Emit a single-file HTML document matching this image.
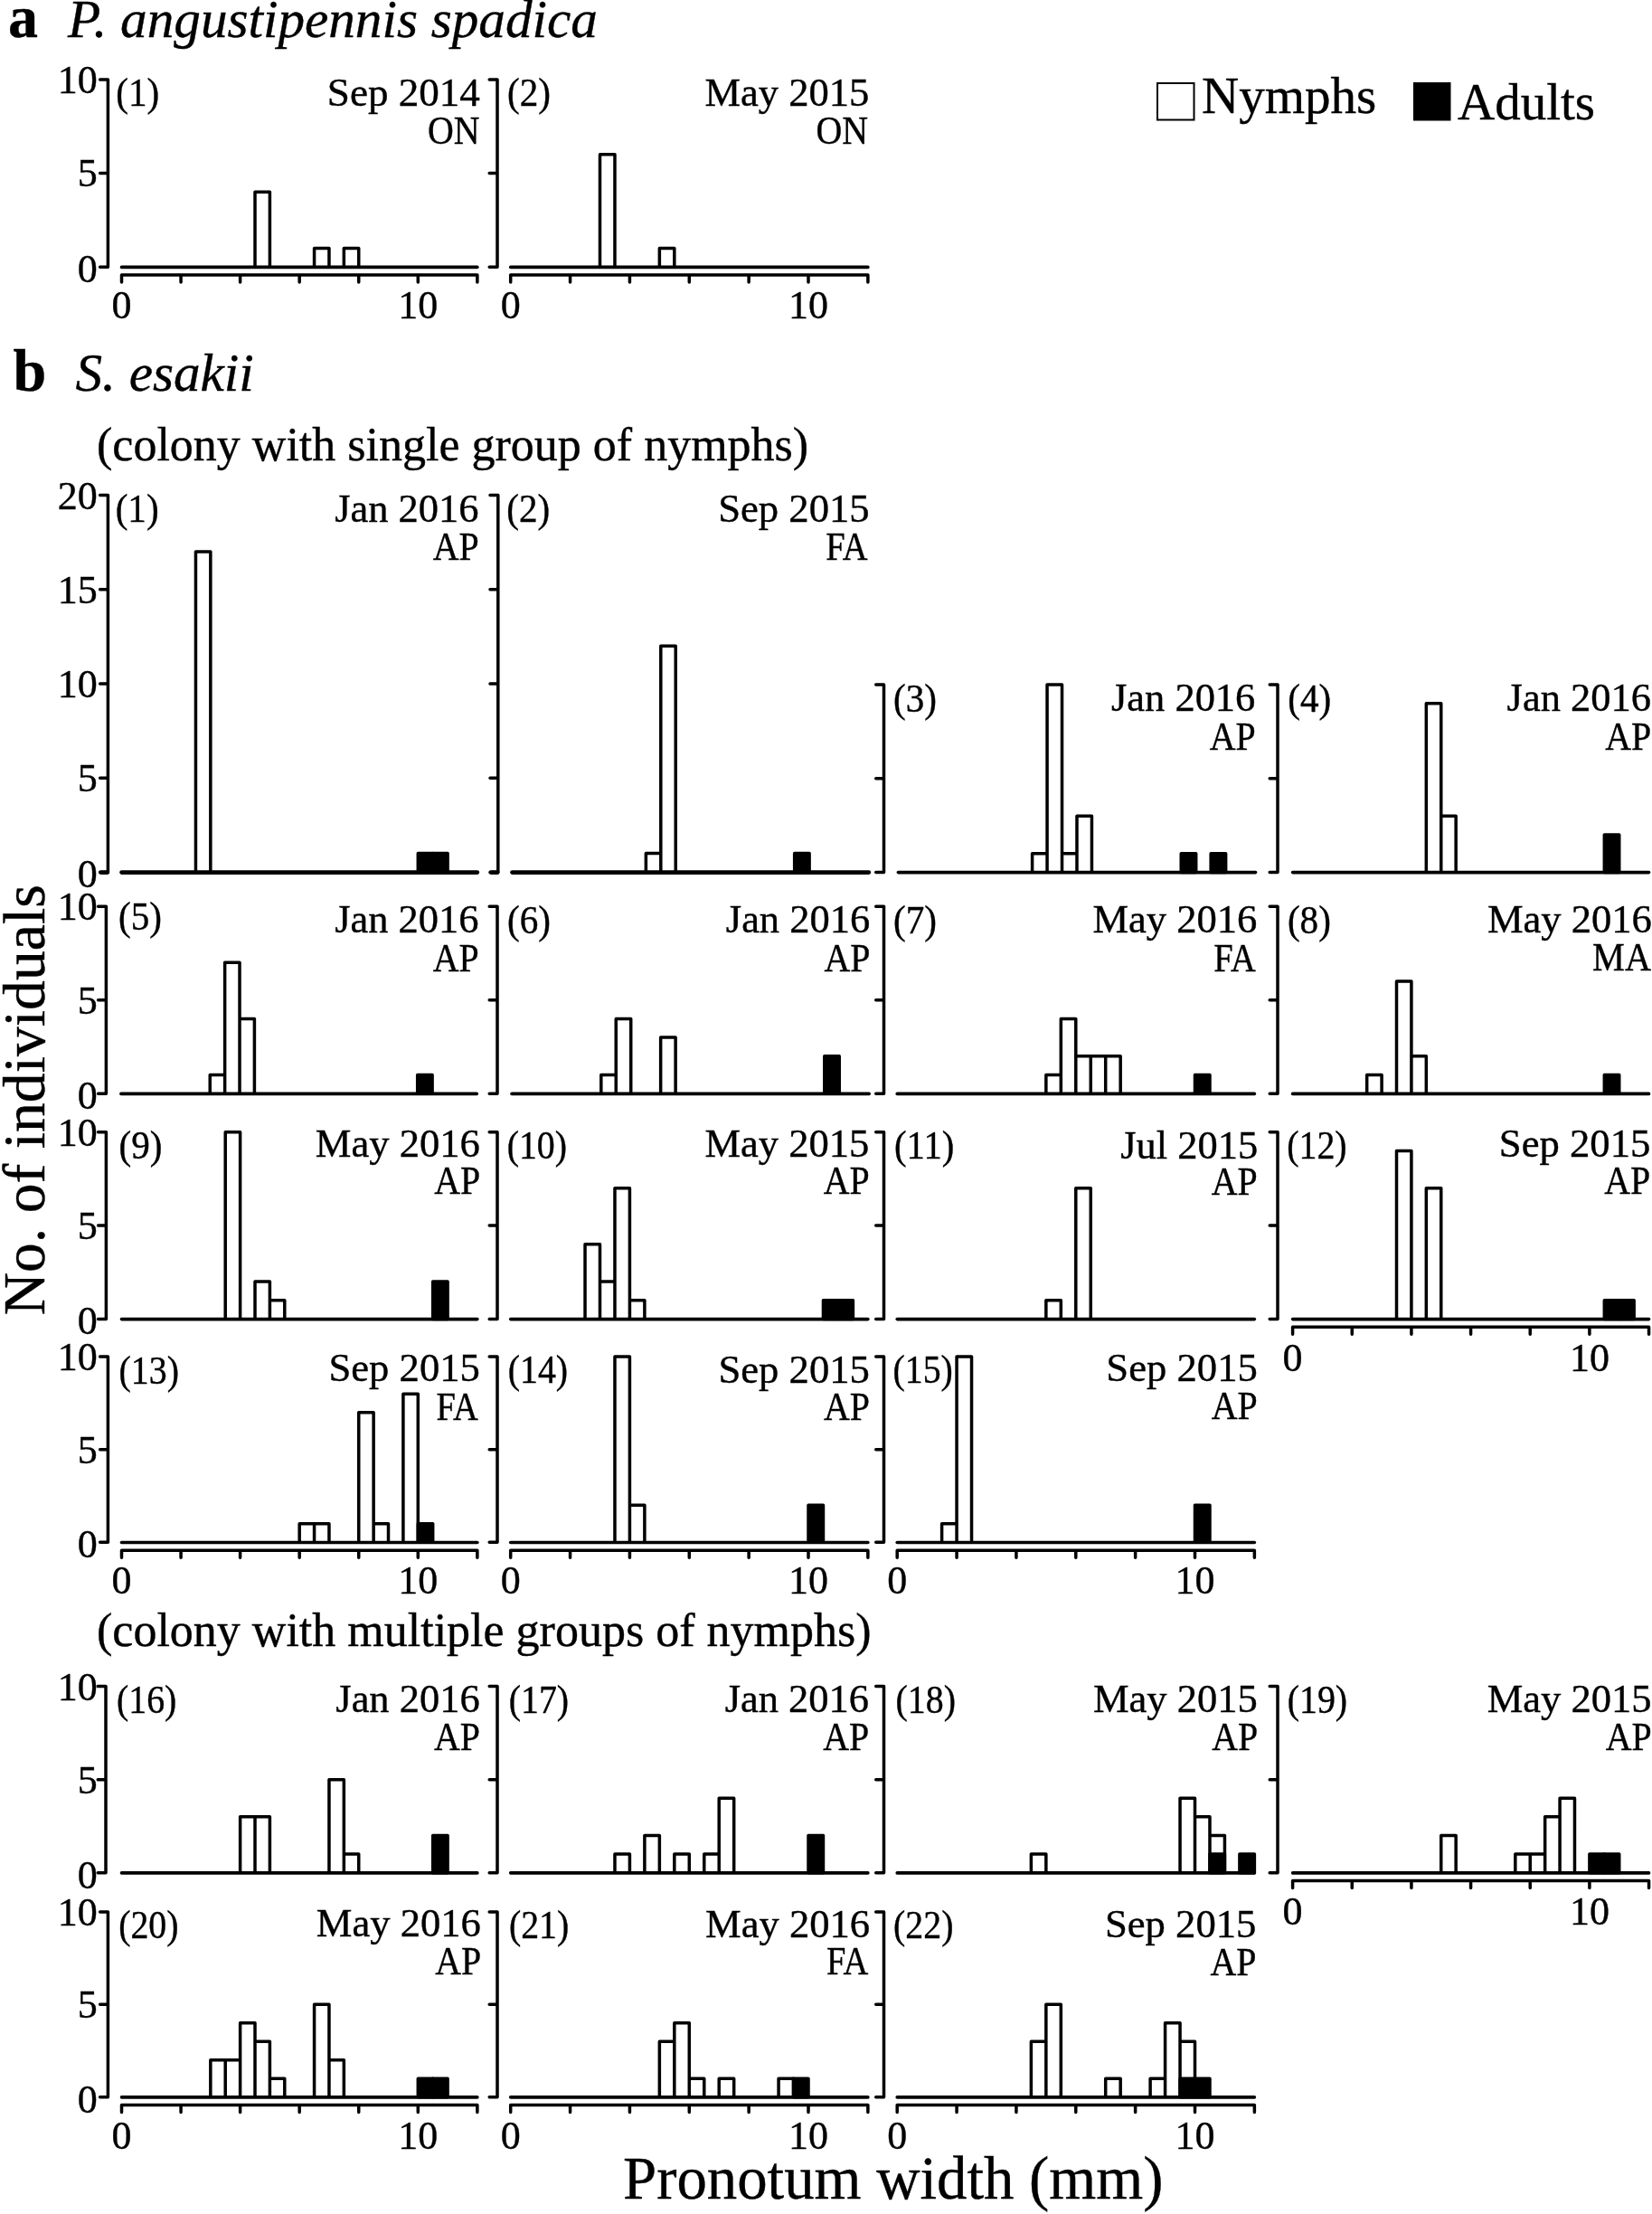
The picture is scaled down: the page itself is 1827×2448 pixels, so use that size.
<!DOCTYPE html>
<html lang="en"><head><meta charset="utf-8"><title>Pronotum width histograms</title>
<style>
html,body{margin:0;padding:0;background:#fff}
svg{display:block;filter:blur(0.45px)}
text{font-family:"Liberation Serif",serif;fill:#000;stroke:#000;stroke-width:0.4px}
.t{font-size:44px}
.ttl{font-size:59.2px;font-style:italic}
.big{font-size:66px;font-weight:bold}
.sub{font-size:52px}
.leg{font-size:57px}
.ax{font-size:66.8px}
path.l{fill:none;stroke:#000;stroke-linecap:round;stroke-linejoin:round}
path.l:not([stroke-width]){stroke-width:3.5}
path.n{fill:#fff;stroke:#000;stroke-width:3.5;stroke-linejoin:round}
.k{stroke:#000;stroke-width:3.5;stroke-linejoin:round}
rect{fill:#000}
</style></head><body>
<svg width="1827" height="2448" viewBox="0 0 1827 2448">
<rect width="1827" height="2448" style="fill:#fff"/>
<g>
<path d="M110.6 87.9H119.4V295.2H110.6M110.6 191.55H119.4" class="l"/>
<text x="107.8" y="312.1" class="t" text-anchor="end">0</text>
<text x="107.8" y="206.45" class="t" text-anchor="end">5</text>
<text x="107.8" y="102.8" class="t" text-anchor="end">10</text>
<path d="M282.01 295.2V212.28H298.4V295.2M347.57 295.2V274.47H363.96V295.2M380.35 295.2V274.47H396.74V295.2" class="n"/>
<path d="M134.5 295.4H527.86" class="l" stroke-width="3.6"/>
<path d="M134.5 312.1V304.1H527.86V312.1M200.06 304.1V312.1M265.62 304.1V312.1M331.18 304.1V312.1M396.74 304.1V312.1M462.3 304.1V312.1" class="l"/>
<text x="134.5" y="352.3" class="t" text-anchor="middle">0</text>
<text x="462.3" y="352.3" class="t" text-anchor="middle">10</text>
<text x="128.33" y="117.4" class="t" textLength="47.97" lengthAdjust="spacingAndGlyphs">(1)</text>
<text x="530.92" y="117" class="t" text-anchor="end" textLength="169.12" lengthAdjust="spacingAndGlyphs">Sep 2014</text>
<text x="530.44" y="158.9" class="t" text-anchor="end" textLength="57.56" lengthAdjust="spacingAndGlyphs">ON</text>
</g>
<g>
<path d="M541.2 87.9H550V295.2H541.2M541.2 191.55H550" class="l"/>
<path d="M663.49 295.2V170.82H679.96V295.2M729.35 295.2V274.47H745.82V295.2" class="n"/>
<path d="M564.7 295.4H959.86" class="l" stroke-width="3.6"/>
<path d="M564.7 312.1V304.1H959.86V312.1M630.56 304.1V312.1M696.42 304.1V312.1M762.28 304.1V312.1M828.14 304.1V312.1M894 304.1V312.1" class="l"/>
<text x="564.7" y="352.3" class="t" text-anchor="middle">0</text>
<text x="894" y="352.3" class="t" text-anchor="middle">10</text>
<text x="561.03" y="117.4" class="t" textLength="47.97" lengthAdjust="spacingAndGlyphs">(2)</text>
<text x="961.32" y="117.4" class="t" text-anchor="end" textLength="181.86" lengthAdjust="spacingAndGlyphs">May 2015</text>
<text x="960.14" y="158.5" class="t" text-anchor="end" textLength="57.56" lengthAdjust="spacingAndGlyphs">ON</text>
</g>
<g>
<path d="M110.6 547.6H119.4V964.4H110.6M110.6 860.2H119.4M110.6 756H119.4M110.6 651.8H119.4" class="l"/>
<path d="M111.6 964.6H118.8" class="l" stroke-width="4.6"/>
<text x="107.8" y="981.3" class="t" text-anchor="end">0</text>
<text x="107.8" y="875.1" class="t" text-anchor="end">5</text>
<text x="107.8" y="770.9" class="t" text-anchor="end">10</text>
<text x="107.8" y="666.7" class="t" text-anchor="end">15</text>
<text x="107.8" y="562.5" class="t" text-anchor="end">20</text>
<path d="M216.45 964.4V610.12H232.84V964.4" class="n"/>
<rect x="462.3" y="943.56" width="16.39" height="20.84" class="k"/>
<rect x="478.69" y="943.56" width="16.39" height="20.84" class="k"/>
<path d="M134.5 964.6H527.86" class="l" stroke-width="4.6"/>
<text x="127.63" y="577.4" class="t" textLength="47.97" lengthAdjust="spacingAndGlyphs">(1)</text>
<text x="529.52" y="577.4" class="t" text-anchor="end" textLength="159.28" lengthAdjust="spacingAndGlyphs">Jan 2016</text>
<text x="529.8" y="618.5" class="t" text-anchor="end" textLength="50.97" lengthAdjust="spacingAndGlyphs">AP</text>
</g>
<g>
<path d="M542 547.6H550.8V964.4H542M542 860.2H550.8M542 756H550.8M542 651.8H550.8" class="l"/>
<path d="M543 964.6H550.2" class="l" stroke-width="4.6"/>
<path d="M714.37 964.4V943.56H730.8V964.4M730.8 964.4V714.32H747.23V964.4" class="n"/>
<rect x="878.67" y="943.56" width="16.43" height="20.84" class="k"/>
<path d="M566.5 964.6H960.82" class="l" stroke-width="4.7"/>
<text x="560.23" y="577.4" class="t" textLength="47.97" lengthAdjust="spacingAndGlyphs">(2)</text>
<text x="961.63" y="577.4" class="t" text-anchor="end" textLength="167.47" lengthAdjust="spacingAndGlyphs">Sep 2015</text>
<text x="959.6" y="618.5" class="t" text-anchor="end" textLength="46.38" lengthAdjust="spacingAndGlyphs">FA</text>
</g>
<g>
<path d="M968.7 757H977.5V964.4H968.7M968.7 860.7H977.5" class="l"/>
<path d="M1141.59 964.4V943.66H1158.05V964.4M1158.05 964.4V757H1174.52V964.4M1174.52 964.4V943.66H1190.98V964.4M1190.98 964.4V902.18H1207.45V964.4" class="n"/>
<rect x="1306.24" y="943.66" width="16.46" height="20.74" class="k"/>
<rect x="1339.16" y="943.66" width="16.47" height="20.74" class="k"/>
<path d="M993.4 964.6H1388.56" class="l" stroke-width="3.6"/>
<text x="988.03" y="787.4" class="t" textLength="47.97" lengthAdjust="spacingAndGlyphs">(3)</text>
<text x="1388.32" y="785.5" class="t" text-anchor="end" textLength="159.28" lengthAdjust="spacingAndGlyphs">Jan 2016</text>
<text x="1388.6" y="828.5" class="t" text-anchor="end" textLength="50.97" lengthAdjust="spacingAndGlyphs">AP</text>
</g>
<g>
<path d="M1404.2 757H1413V964.4H1404.2M1404.2 860.7H1413" class="l"/>
<path d="M1577.33 964.4V777.74H1593.75V964.4M1593.75 964.4V902.18H1610.16V964.4" class="n"/>
<rect x="1774.31" y="922.92" width="16.42" height="41.48" class="k"/>
<path d="M1429.6 964.6H1823.56" class="l" stroke-width="3.6"/>
<text x="1424.33" y="787.4" class="t" textLength="47.97" lengthAdjust="spacingAndGlyphs">(4)</text>
<text x="1825.92" y="785.5" class="t" text-anchor="end" textLength="159.28" lengthAdjust="spacingAndGlyphs">Jan 2016</text>
<text x="1826.2" y="828.5" class="t" text-anchor="end" textLength="50.97" lengthAdjust="spacingAndGlyphs">AP</text>
</g>
<g>
<path d="M108.6 1002.2H117.4V1209.2H108.6M108.6 1105.7H117.4" class="l"/>
<text x="107.8" y="1226.1" class="t" text-anchor="end">0</text>
<text x="107.8" y="1120.6" class="t" text-anchor="end">5</text>
<text x="107.8" y="1017.1" class="t" text-anchor="end">10</text>
<path d="M232.24 1209.2V1188.5H248.63V1209.2M248.63 1209.2V1064.3H265.02V1209.2M265.02 1209.2V1126.4H281.41V1209.2" class="n"/>
<rect x="461.7" y="1188.5" width="16.39" height="20.7" class="k"/>
<path d="M133.9 1209.4H527.26" class="l" stroke-width="3.6"/>
<text x="131.03" y="1027.6" class="t" textLength="47.97" lengthAdjust="spacingAndGlyphs">(5)</text>
<text x="529.52" y="1030.8" class="t" text-anchor="end" textLength="159.28" lengthAdjust="spacingAndGlyphs">Jan 2016</text>
<text x="529.8" y="1073.5" class="t" text-anchor="end" textLength="50.97" lengthAdjust="spacingAndGlyphs">AP</text>
</g>
<g>
<path d="M541.2 1002.2H550V1209.2H541.2M541.2 1105.7H550" class="l"/>
<path d="M664.79 1209.2V1188.5H681.25V1209.2M681.25 1209.2V1126.4H697.72V1209.2M730.65 1209.2V1147.1H747.12V1209.2" class="n"/>
<rect x="911.76" y="1167.8" width="16.47" height="41.4" class="k"/>
<path d="M566 1209.4H961.16" class="l" stroke-width="3.6"/>
<text x="561.03" y="1032" class="t" textLength="47.97" lengthAdjust="spacingAndGlyphs">(6)</text>
<text x="962.12" y="1031.3" class="t" text-anchor="end" textLength="159.28" lengthAdjust="spacingAndGlyphs">Jan 2016</text>
<text x="962.4" y="1073.5" class="t" text-anchor="end" textLength="50.97" lengthAdjust="spacingAndGlyphs">AP</text>
</g>
<g>
<path d="M968.7 1002.2H977.5V1209.2H968.7M968.7 1105.7H977.5" class="l"/>
<path d="M1156.85 1209.2V1188.5H1173.32V1209.2M1173.32 1209.2V1126.4H1189.78V1209.2M1189.78 1209.2V1167.8H1206.25V1209.2M1206.25 1209.2V1167.8H1222.71V1209.2M1222.71 1209.2V1167.8H1239.17V1209.2" class="n"/>
<rect x="1321.5" y="1188.5" width="16.47" height="20.7" class="k"/>
<path d="M992.2 1209.4H1387.36" class="l" stroke-width="3.6"/>
<text x="988.03" y="1032" class="t" textLength="47.97" lengthAdjust="spacingAndGlyphs">(7)</text>
<text x="1390.42" y="1031.3" class="t" text-anchor="end" textLength="182.04" lengthAdjust="spacingAndGlyphs">May 2016</text>
<text x="1388.7" y="1073.5" class="t" text-anchor="end" textLength="46.38" lengthAdjust="spacingAndGlyphs">FA</text>
</g>
<g>
<path d="M1404.2 1002.2H1413V1209.2H1404.2M1404.2 1105.7H1413" class="l"/>
<path d="M1511.67 1209.2V1188.5H1528.09V1209.2M1544.5 1209.2V1085H1560.92V1209.2M1560.92 1209.2V1167.8H1577.33V1209.2" class="n"/>
<rect x="1774.31" y="1188.5" width="16.42" height="20.7" class="k"/>
<path d="M1429.6 1209.4H1823.56" class="l" stroke-width="3.6"/>
<text x="1423.93" y="1031.5" class="t" textLength="47.97" lengthAdjust="spacingAndGlyphs">(8)</text>
<text x="1826.92" y="1030.7" class="t" text-anchor="end" textLength="182.04" lengthAdjust="spacingAndGlyphs">May 2016</text>
<text x="1826.02" y="1073" class="t" text-anchor="end" textLength="64.94" lengthAdjust="spacingAndGlyphs">MA</text>
</g>
<g>
<path d="M108.6 1251.8H117.4V1458.4H108.6M108.6 1355.1H117.4" class="l"/>
<text x="107.8" y="1475.3" class="t" text-anchor="end">0</text>
<text x="107.8" y="1370" class="t" text-anchor="end">5</text>
<text x="107.8" y="1266.7" class="t" text-anchor="end">10</text>
<path d="M249.23 1458.4V1251.8H265.62V1458.4M282.01 1458.4V1417.08H298.4V1458.4M298.4 1458.4V1437.74H314.79V1458.4" class="n"/>
<rect x="478.69" y="1417.08" width="16.39" height="41.32" class="k"/>
<path d="M134.5 1458.6H527.86" class="l" stroke-width="3.6"/>
<text x="131.53" y="1281.1" class="t" textLength="47.97" lengthAdjust="spacingAndGlyphs">(9)</text>
<text x="530.82" y="1279" class="t" text-anchor="end" textLength="182.04" lengthAdjust="spacingAndGlyphs">May 2016</text>
<text x="531.1" y="1320.2" class="t" text-anchor="end" textLength="50.97" lengthAdjust="spacingAndGlyphs">AP</text>
</g>
<g>
<path d="M541.2 1251.8H550V1458.4H541.2M541.2 1355.1H550" class="l"/>
<path d="M647.03 1458.4V1375.76H663.49V1458.4M663.49 1458.4V1417.08H679.96V1458.4M679.96 1458.4V1313.78H696.42V1458.4M696.42 1458.4V1437.74H712.88V1458.4" class="n"/>
<rect x="910.47" y="1437.74" width="16.47" height="20.66" class="k"/>
<rect x="926.93" y="1437.74" width="16.46" height="20.66" class="k"/>
<path d="M564.7 1458.6H959.86" class="l" stroke-width="3.6"/>
<text x="560.69" y="1281.1" class="t" textLength="66.34" lengthAdjust="spacingAndGlyphs">(10)</text>
<text x="961.32" y="1278.7" class="t" text-anchor="end" textLength="181.86" lengthAdjust="spacingAndGlyphs">May 2015</text>
<text x="961.6" y="1320.2" class="t" text-anchor="end" textLength="50.97" lengthAdjust="spacingAndGlyphs">AP</text>
</g>
<g>
<path d="M968.7 1251.8H977.5V1458.4H968.7M968.7 1355.1H977.5" class="l"/>
<path d="M1156.85 1458.4V1437.74H1173.32V1458.4M1189.78 1458.4V1313.78H1206.25V1458.4" class="n"/>
<path d="M992.2 1458.6H1387.36" class="l" stroke-width="3.6"/>
<text x="988.99" y="1281.1" class="t" textLength="66.34" lengthAdjust="spacingAndGlyphs">(11)</text>
<text x="1391.22" y="1281.1" class="t" text-anchor="end" textLength="151.9" lengthAdjust="spacingAndGlyphs">Jul 2015</text>
<text x="1390.8" y="1320.7" class="t" text-anchor="end" textLength="50.97" lengthAdjust="spacingAndGlyphs">AP</text>
</g>
<g>
<path d="M1404.2 1251.8H1413V1458.4H1404.2M1404.2 1355.1H1413" class="l"/>
<path d="M1544.5 1458.4V1272.46H1560.92V1458.4M1577.33 1458.4V1313.78H1593.75V1458.4" class="n"/>
<rect x="1774.31" y="1437.74" width="16.42" height="20.66" class="k"/>
<rect x="1790.73" y="1437.74" width="16.41" height="20.66" class="k"/>
<path d="M1429.6 1458.6H1823.56" class="l" stroke-width="3.6"/>
<path d="M1429.6 1475.3V1467.3H1823.56V1475.3M1495.26 1467.3V1475.3M1560.92 1467.3V1475.3M1626.58 1467.3V1475.3M1692.24 1467.3V1475.3M1757.9 1467.3V1475.3" class="l"/>
<text x="1429.6" y="1515.5" class="t" text-anchor="middle">0</text>
<text x="1757.9" y="1515.5" class="t" text-anchor="middle">10</text>
<text x="1423.29" y="1281.1" class="t" textLength="66.34" lengthAdjust="spacingAndGlyphs">(12)</text>
<text x="1825.33" y="1279" class="t" text-anchor="end" textLength="167.47" lengthAdjust="spacingAndGlyphs">Sep 2015</text>
<text x="1825.3" y="1320.2" class="t" text-anchor="end" textLength="50.97" lengthAdjust="spacingAndGlyphs">AP</text>
</g>
<g>
<path d="M110.6 1500.1H119.4V1705.3H110.6M110.6 1602.7H119.4" class="l"/>
<text x="107.8" y="1722.2" class="t" text-anchor="end">0</text>
<text x="107.8" y="1617.6" class="t" text-anchor="end">5</text>
<text x="107.8" y="1515" class="t" text-anchor="end">10</text>
<path d="M331.18 1705.3V1684.78H347.57V1705.3M347.57 1705.3V1684.78H363.96V1705.3M396.74 1705.3V1561.66H413.13V1705.3M413.13 1705.3V1684.78H429.52V1705.3M445.91 1705.3V1541.14H462.3V1705.3" class="n"/>
<rect x="462.3" y="1684.78" width="16.39" height="20.52" class="k"/>
<path d="M134.5 1705.5H527.86" class="l" stroke-width="3.6"/>
<path d="M134.5 1722.2V1714.2H527.86V1722.2M200.06 1714.2V1722.2M265.62 1714.2V1722.2M331.18 1714.2V1722.2M396.74 1714.2V1722.2M462.3 1714.2V1722.2" class="l"/>
<text x="134.5" y="1762.4" class="t" text-anchor="middle">0</text>
<text x="462.3" y="1762.4" class="t" text-anchor="middle">10</text>
<text x="131.59" y="1529.6" class="t" textLength="66.34" lengthAdjust="spacingAndGlyphs">(13)</text>
<text x="530.93" y="1527.2" class="t" text-anchor="end" textLength="167.47" lengthAdjust="spacingAndGlyphs">Sep 2015</text>
<text x="528.9" y="1570.1" class="t" text-anchor="end" textLength="46.38" lengthAdjust="spacingAndGlyphs">FA</text>
</g>
<g>
<path d="M541.2 1500.1H550V1705.3H541.2M541.2 1602.7H550" class="l"/>
<path d="M679.96 1705.3V1500.1H696.42V1705.3M696.42 1705.3V1664.26H712.88V1705.3" class="n"/>
<rect x="894" y="1664.26" width="16.47" height="41.04" class="k"/>
<path d="M564.7 1705.5H959.86" class="l" stroke-width="3.6"/>
<path d="M564.7 1722.2V1714.2H959.86V1722.2M630.56 1714.2V1722.2M696.42 1714.2V1722.2M762.28 1714.2V1722.2M828.14 1714.2V1722.2M894 1714.2V1722.2" class="l"/>
<text x="564.7" y="1762.4" class="t" text-anchor="middle">0</text>
<text x="894" y="1762.4" class="t" text-anchor="middle">10</text>
<text x="561.79" y="1529.1" class="t" textLength="66.34" lengthAdjust="spacingAndGlyphs">(14)</text>
<text x="961.93" y="1529" class="t" text-anchor="end" textLength="167.47" lengthAdjust="spacingAndGlyphs">Sep 2015</text>
<text x="961.9" y="1570.2" class="t" text-anchor="end" textLength="50.97" lengthAdjust="spacingAndGlyphs">AP</text>
</g>
<g>
<path d="M968.7 1500.1H977.5V1705.3H968.7M968.7 1602.7H977.5" class="l"/>
<path d="M1041.6 1705.3V1684.78H1058.06V1705.3M1058.06 1705.3V1500.1H1074.53V1705.3" class="n"/>
<rect x="1321.5" y="1664.26" width="16.47" height="41.04" class="k"/>
<path d="M992.2 1705.5H1387.36" class="l" stroke-width="3.6"/>
<path d="M992.2 1722.2V1714.2H1387.36V1722.2M1058.06 1714.2V1722.2M1123.92 1714.2V1722.2M1189.78 1714.2V1722.2M1255.64 1714.2V1722.2M1321.5 1714.2V1722.2" class="l"/>
<text x="992.2" y="1762.4" class="t" text-anchor="middle">0</text>
<text x="1321.5" y="1762.4" class="t" text-anchor="middle">10</text>
<text x="987.49" y="1528.9" class="t" textLength="66.34" lengthAdjust="spacingAndGlyphs">(15)</text>
<text x="1390.83" y="1527" class="t" text-anchor="end" textLength="167.47" lengthAdjust="spacingAndGlyphs">Sep 2015</text>
<text x="1390.8" y="1569.3" class="t" text-anchor="end" textLength="50.97" lengthAdjust="spacingAndGlyphs">AP</text>
</g>
<g>
<path d="M108.2 1864.6H117V2070.7H108.2M108.2 1967.65H117" class="l"/>
<text x="107.8" y="2087.6" class="t" text-anchor="end">0</text>
<text x="107.8" y="1982.55" class="t" text-anchor="end">5</text>
<text x="107.8" y="1879.5" class="t" text-anchor="end">10</text>
<path d="M265.62 2070.7V2008.87H282.01V2070.7M282.01 2070.7V2008.87H298.4V2070.7M363.96 2070.7V1967.65H380.35V2070.7M380.35 2070.7V2050.09H396.74V2070.7" class="n"/>
<rect x="478.69" y="2029.48" width="16.39" height="41.22" class="k"/>
<path d="M134.5 2070.9H527.86" class="l" stroke-width="3.6"/>
<text x="128.99" y="1894.2" class="t" textLength="66.34" lengthAdjust="spacingAndGlyphs">(16)</text>
<text x="530.62" y="1893.3" class="t" text-anchor="end" textLength="159.28" lengthAdjust="spacingAndGlyphs">Jan 2016</text>
<text x="530.9" y="1934.7" class="t" text-anchor="end" textLength="50.97" lengthAdjust="spacingAndGlyphs">AP</text>
</g>
<g>
<path d="M541.2 1864.6H550V2070.7H541.2M541.2 1967.65H550" class="l"/>
<path d="M679.96 2070.7V2050.09H696.42V2070.7M712.88 2070.7V2029.48H729.35V2070.7M745.82 2070.7V2050.09H762.28V2070.7M778.75 2070.7V2050.09H795.21V2070.7M795.21 2070.7V1988.26H811.68V2070.7" class="n"/>
<rect x="894" y="2029.48" width="16.47" height="41.22" class="k"/>
<path d="M564.7 2070.9H959.86" class="l" stroke-width="3.6"/>
<text x="562.79" y="1894.1" class="t" textLength="66.34" lengthAdjust="spacingAndGlyphs">(17)</text>
<text x="961.02" y="1893" class="t" text-anchor="end" textLength="159.28" lengthAdjust="spacingAndGlyphs">Jan 2016</text>
<text x="961.3" y="1934.7" class="t" text-anchor="end" textLength="50.97" lengthAdjust="spacingAndGlyphs">AP</text>
</g>
<g>
<path d="M968.7 1864.6H977.5V2070.7H968.7M968.7 1967.65H977.5" class="l"/>
<path d="M1140.38 2070.7V2050.09H1156.85V2070.7M1305.04 2070.7V1988.26H1321.5V2070.7M1321.5 2070.7V2008.87H1337.97V2070.7M1337.97 2070.7V2029.48H1354.43V2070.7" class="n"/>
<rect x="1337.97" y="2050.09" width="16.46" height="20.61" class="k"/>
<rect x="1370.89" y="2050.09" width="16.47" height="20.61" class="k"/>
<path d="M992.2 2070.9H1387.36" class="l" stroke-width="3.6"/>
<text x="990.59" y="1893.8" class="t" textLength="66.34" lengthAdjust="spacingAndGlyphs">(18)</text>
<text x="1390.82" y="1893" class="t" text-anchor="end" textLength="181.86" lengthAdjust="spacingAndGlyphs">May 2015</text>
<text x="1391.1" y="1934.7" class="t" text-anchor="end" textLength="50.97" lengthAdjust="spacingAndGlyphs">AP</text>
</g>
<g>
<path d="M1404.2 1864.6H1413V2070.7H1404.2M1404.2 1967.65H1413" class="l"/>
<path d="M1593.75 2070.7V2029.48H1610.16V2070.7M1675.82 2070.7V2050.09H1692.24V2070.7M1692.24 2070.7V2050.09H1708.65V2070.7M1708.65 2070.7V2008.87H1725.07V2070.7M1725.07 2070.7V1988.26H1741.48V2070.7" class="n"/>
<rect x="1757.9" y="2050.09" width="16.41" height="20.61" class="k"/>
<rect x="1774.31" y="2050.09" width="16.42" height="20.61" class="k"/>
<path d="M1429.6 2070.9H1823.56" class="l" stroke-width="3.6"/>
<path d="M1429.6 2087.6V2079.6H1823.56V2087.6M1495.26 2079.6V2087.6M1560.92 2079.6V2087.6M1626.58 2079.6V2087.6M1692.24 2079.6V2087.6M1757.9 2079.6V2087.6" class="l"/>
<text x="1429.6" y="2127.8" class="t" text-anchor="middle">0</text>
<text x="1757.9" y="2127.8" class="t" text-anchor="middle">10</text>
<text x="1423.79" y="1894" class="t" textLength="66.34" lengthAdjust="spacingAndGlyphs">(19)</text>
<text x="1826.52" y="1893.1" class="t" text-anchor="end" textLength="181.86" lengthAdjust="spacingAndGlyphs">May 2015</text>
<text x="1826.8" y="1934.5" class="t" text-anchor="end" textLength="50.97" lengthAdjust="spacingAndGlyphs">AP</text>
</g>
<g>
<path d="M110.6 2113.9H119.4V2318.7H110.6M110.6 2216.3H119.4" class="l"/>
<text x="107.8" y="2335.6" class="t" text-anchor="end">0</text>
<text x="107.8" y="2231.2" class="t" text-anchor="end">5</text>
<text x="107.8" y="2128.8" class="t" text-anchor="end">10</text>
<path d="M232.84 2318.7V2277.74H249.23V2318.7M249.23 2318.7V2277.74H265.62V2318.7M265.62 2318.7V2236.78H282.01V2318.7M282.01 2318.7V2257.26H298.4V2318.7M298.4 2318.7V2298.22H314.79V2318.7M347.57 2318.7V2216.3H363.96V2318.7M363.96 2318.7V2277.74H380.35V2318.7" class="n"/>
<rect x="462.3" y="2298.22" width="16.39" height="20.48" class="k"/>
<rect x="478.69" y="2298.22" width="16.39" height="20.48" class="k"/>
<path d="M134.5 2318.9H527.86" class="l" stroke-width="3.6"/>
<path d="M134.5 2335.6V2327.6H527.86V2335.6M200.06 2327.6V2335.6M265.62 2327.6V2335.6M331.18 2327.6V2335.6M396.74 2327.6V2335.6M462.3 2327.6V2335.6" class="l"/>
<text x="134.5" y="2375.8" class="t" text-anchor="middle">0</text>
<text x="462.3" y="2375.8" class="t" text-anchor="middle">10</text>
<text x="131.19" y="2143" class="t" textLength="66.34" lengthAdjust="spacingAndGlyphs">(20)</text>
<text x="531.92" y="2141.2" class="t" text-anchor="end" textLength="182.04" lengthAdjust="spacingAndGlyphs">May 2016</text>
<text x="532.2" y="2183.1" class="t" text-anchor="end" textLength="50.97" lengthAdjust="spacingAndGlyphs">AP</text>
</g>
<g>
<path d="M541.2 2113.9H550V2318.7H541.2M541.2 2216.3H550" class="l"/>
<path d="M729.35 2318.7V2257.26H745.82V2318.7M745.82 2318.7V2236.78H762.28V2318.7M762.28 2318.7V2298.22H778.75V2318.7M795.21 2318.7V2298.22H811.68V2318.7M861.07 2318.7V2298.22H877.54V2318.7" class="n"/>
<rect x="877.54" y="2298.22" width="16.46" height="20.48" class="k"/>
<path d="M564.7 2318.9H959.86" class="l" stroke-width="3.6"/>
<path d="M564.7 2335.6V2327.6H959.86V2335.6M630.56 2327.6V2335.6M696.42 2327.6V2335.6M762.28 2327.6V2335.6M828.14 2327.6V2335.6M894 2327.6V2335.6" class="l"/>
<text x="564.7" y="2375.8" class="t" text-anchor="middle">0</text>
<text x="894" y="2375.8" class="t" text-anchor="middle">10</text>
<text x="562.89" y="2142.9" class="t" textLength="66.34" lengthAdjust="spacingAndGlyphs">(21)</text>
<text x="962.12" y="2141.6" class="t" text-anchor="end" textLength="182.04" lengthAdjust="spacingAndGlyphs">May 2016</text>
<text x="960.4" y="2183.3" class="t" text-anchor="end" textLength="46.38" lengthAdjust="spacingAndGlyphs">FA</text>
</g>
<g>
<path d="M968.7 2113.9H977.5V2318.7H968.7M968.7 2216.3H977.5" class="l"/>
<path d="M1140.38 2318.7V2257.26H1156.85V2318.7M1156.85 2318.7V2216.3H1173.32V2318.7M1222.71 2318.7V2298.22H1239.17V2318.7M1272.11 2318.7V2298.22H1288.57V2318.7M1288.57 2318.7V2236.78H1305.04V2318.7M1305.04 2318.7V2257.26H1321.5V2318.7" class="n"/>
<rect x="1305.04" y="2298.22" width="16.46" height="20.48" class="k"/>
<rect x="1321.5" y="2298.22" width="16.47" height="20.48" class="k"/>
<path d="M992.2 2318.9H1387.36" class="l" stroke-width="3.6"/>
<path d="M992.2 2335.6V2327.6H1387.36V2335.6M1058.06 2327.6V2335.6M1123.92 2327.6V2335.6M1189.78 2327.6V2335.6M1255.64 2327.6V2335.6M1321.5 2327.6V2335.6" class="l"/>
<text x="992.2" y="2375.8" class="t" text-anchor="middle">0</text>
<text x="1321.5" y="2375.8" class="t" text-anchor="middle">10</text>
<text x="988.09" y="2142.9" class="t" textLength="66.34" lengthAdjust="spacingAndGlyphs">(22)</text>
<text x="1389.43" y="2141.6" class="t" text-anchor="end" textLength="167.47" lengthAdjust="spacingAndGlyphs">Sep 2015</text>
<text x="1389.4" y="2183.8" class="t" text-anchor="end" textLength="50.97" lengthAdjust="spacingAndGlyphs">AP</text>
</g>
<text x="9" y="40.5" class="big">a</text>
<text x="75" y="40.5" class="ttl">P. angustipennis spadica</text>
<text x="14.5" y="431.5" class="big">b</text>
<text x="83.5" y="431.5" class="ttl">S. esakii</text>
<text x="107" y="509.2" class="sub">(colony with single group of nymphs)</text>
<text x="107" y="1819.8" class="sub">(colony with multiple groups of nymphs)</text>
<rect x="1280" y="92" width="40.5" height="40.5" style="fill:#fff;stroke:#000;stroke-width:2"/>
<text x="1329" y="125.3" class="leg">Nymphs</text>
<rect x="1563" y="91" width="41.5" height="42.5"/>
<text x="1612" y="132.4" class="leg">Adults</text>
<text x="689" y="2431" class="ax">Pronotum width (mm)</text>
<text transform="translate(48.6 1216.4) rotate(-90)" class="ax" style="font-size:65.7px" text-anchor="middle">No. of individuals</text>
</svg>
</body></html>
